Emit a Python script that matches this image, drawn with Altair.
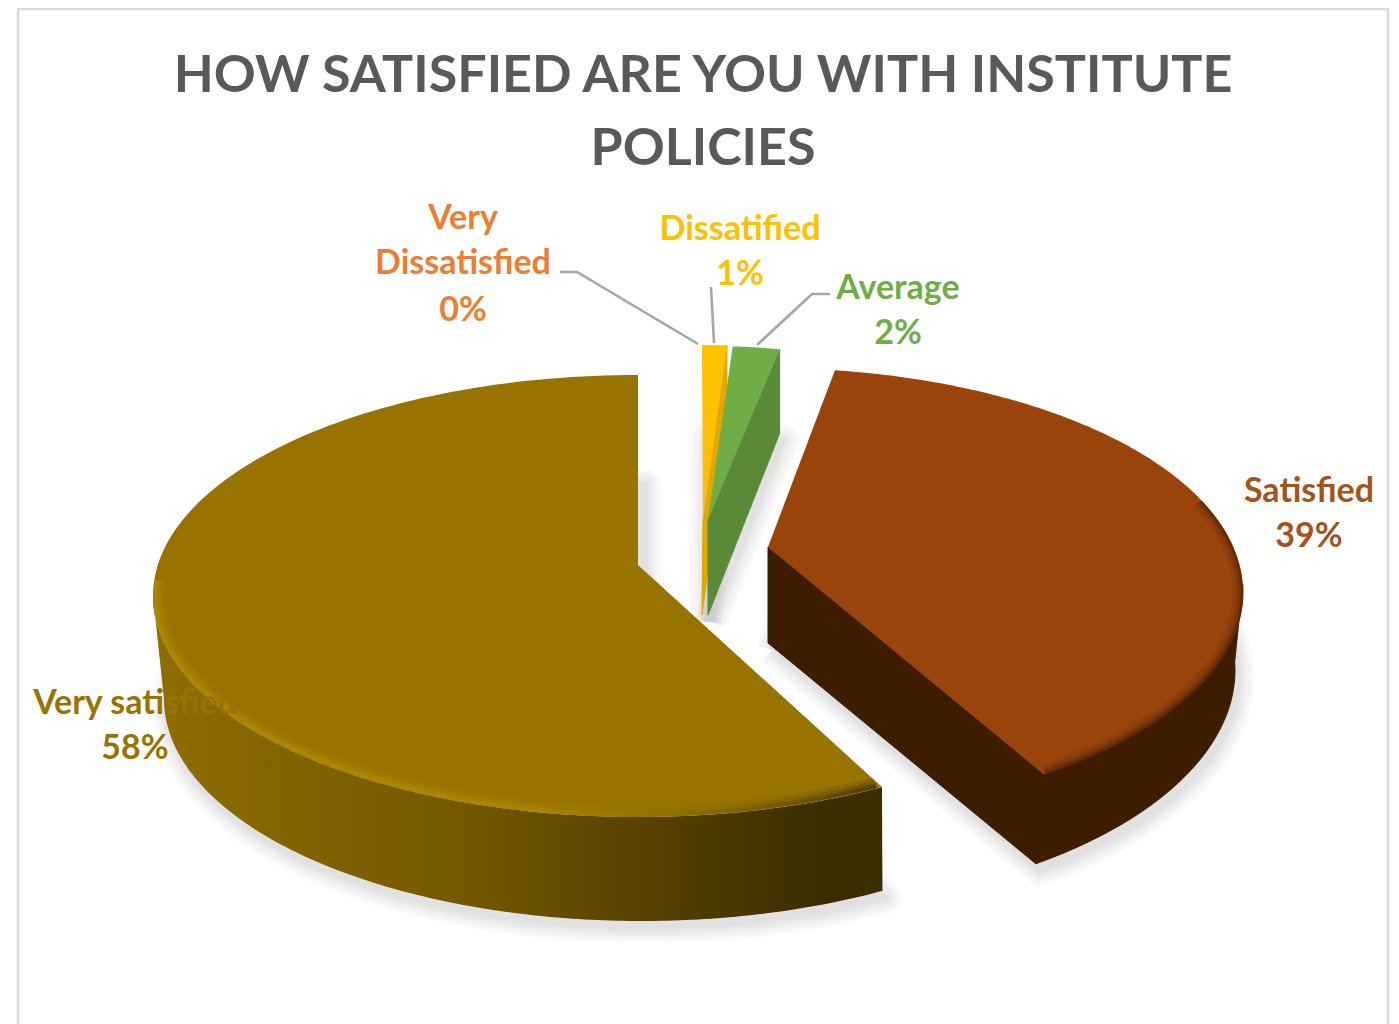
import numpy as np
import pandas as pd
import altair as alt

# ---- chart values ----
categories = ["Very Dissatisfied", "Dissatisfied", "Average", "Satisfied", "Very satisfied"]
shares = [0, 1, 2, 39, 58]
title_lines = ["HOW SATISFIED ARE YOU WITH INSTITUTE", "POLICIES"]
label_lines = [["Very", "Dissatisfied"], ["Dissatified"], ["Average"], ["Satisfied"], ["Very satisfied"]]

# ---- styling and layout ----
W, H = 1383, 1016
top_colors = ["#ED7D31", "#FFC000", "#70AD47", "#9A440C", "#997300"]
text_colors = ["#ED7D31", "#FFC000", "#70AD47", "#A5521B", "#997300"]
wall_colors = ["#B85F20", "#E0A800", "#5A8A38", "#3E1C00", None]
LABEL_FONT = "Lato"
# per-slice projection: top ellipse, bottom ellipse (cx, cy, a, b), apexes, angular trim
geom = {
    "Dissatisfied": dict(top=(702, 535, 398, 190), bot=(702, 620, 398, 190), apex=(703, 520), bapex=(702, 615), trim=(0, 0)),
    "Average": dict(top=(709, 536, 377, 190), bot=(709, 620, 377, 190), apex=(708, 520), bapex=(708, 615), trim=(0, 0)),
    "Satisfied": dict(top=(768, 592, 475, 224), bot=(760, 670, 475, 238), apex=(768, 547), bapex=(768, 643), trim=(-2.7, -6.7), wall_from=88),
    "Very satisfied": dict(top=(638, 596, 485, 221), bot=(642, 699, 478, 222), apex=(638, 565), bapex=(642, 660), trim=(-1.4, 0), wall_to=270),
}
label_at = {
    "Very Dissatisfied": (463, [219, 264, 311]),
    "Dissatisfied": (740, [230, 275]),
    "Average": (898, [289, 334]),
    "Satisfied": (1309, [492, 537]),
    "Very satisfied": (135, [704, 749]),
}
leaders = [
    [(560, 272), (577, 272), (698, 344)],
    [(711, 287), (714, 343)],
    [(830, 294), (812, 294), (757, 345)],
]
frame = [(18, 1024), (18, 9), (1388, 9), (1388, 1024)]

xs = alt.X("x:Q", scale=alt.Scale(domain=[8, 8 + W], nice=False, zero=False), axis=None)
ys = alt.Y("y:Q", scale=alt.Scale(domain=[8, 8 + H], reverse=True, nice=False, zero=False), axis=None)


def arc(e, t0, t1, n=160, inset=0):
    t = np.radians(np.linspace(t0, t1, n))
    return np.c_[e[0] + (e[2] - inset) * np.sin(t), e[1] - (e[3] - inset) * np.cos(t)]


def path(points, **mark):
    pts = np.asarray(points, dtype=float)
    df = pd.DataFrame({"x": pts[:, 0], "y": pts[:, 1], "i": np.arange(len(pts))})
    return alt.Chart(df).mark_line(**mark).encode(x=xs, y=ys, order="i:Q")


def poly(points, fill, **mark):
    pts = np.vstack([points, points[0]])
    mark.setdefault("strokeWidth", 0)
    return path(pts, fill=fill, **mark)


def grad(stops, vertical=False):
    return alt.LinearGradient(
        gradient="linear",
        x1=0, y1=0, x2=0 if vertical else 1, y2=1 if vertical else 0,
        stops=[alt.GradientStop(offset=o, color=c) for o, c in stops],
    )


edges = np.cumsum([0] + shares) / sum(shares) * 360
shadows, bodies, rims = [], [], []
for k, name in enumerate(categories):
    if shares[k] == 0:
        continue
    g = geom[name]
    t0, t1 = edges[k] + g["trim"][0], edges[k + 1] + g["trim"][1]
    top_arc = arc(g["top"], t0, t1)
    bot_arc = arc(g["bot"], t0, t1)
    # soft floor shadow built from the slice's bottom face
    floor = np.vstack([[g["bapex"]], bot_arc, [g["bapex"]]]) + [4, 7]
    for sw in [30, 23, 16, 10, 4]:
        shadows.append(path(floor, fill="#000000", stroke="#000000", strokeWidth=sw,
                            opacity=0.02, strokeJoin="round"))
    # walls
    if name == "Very satisfied":
        tw = g["wall_to"]
        wall = np.vstack([arc(g["top"], t0, tw), arc(g["bot"], t0, tw)[::-1]])
        bodies.append(poly(wall, grad([(0, "#8F6D00"), (0.45, "#735600"), (0.75, "#4E3B00"), (0.92, "#3A2E00"), (1, "#3A2E00")])))
    else:
        end_top, end_bot = top_arc[-1], bot_arc[-1]
        cut = np.array([g["apex"], end_top, end_bot, g["bapex"]])
        if name == "Satisfied":
            tw = g["wall_from"]
            outer = np.vstack([arc(g["top"], tw, t1), arc(g["bot"], tw, t1)[::-1]])
            bodies.append(poly(outer, wall_colors[k], stroke=wall_colors[k], strokeWidth=1))
        bodies.append(poly(cut, wall_colors[k], stroke=wall_colors[k], strokeWidth=1))
    # top face
    bodies.append(poly(np.vstack([[g["apex"]], top_arc]), top_colors[k]))
    # bevel along the front rim
    if name == "Very satisfied":
        stops = [(0, "#B08A00"), (0.5, "#B08A00"), (0.72, "#8F7000"), (0.9, "#5F4A00"), (1, "#3A2E00")]
        for inset, sw, op in [(7, 9, 0.18), (5, 6, 0.3), (3, 4, 0.45), (1.5, 2.5, 0.6)]:
            rims.append(path(arc(g["top"], t0 + 0.6, 274, inset=inset), stroke=grad(stops), strokeWidth=sw, opacity=op))
    if name == "Satisfied":
        for inset, sw, op in [(6, 10, 0.08), (4, 7, 0.14), (2.5, 4, 0.25), (1, 2, 0.45)]:
            rims.append(path(arc(g["top"], 66, t1 - 0.3, inset=inset), stroke=wall_colors[k], strokeWidth=sw, opacity=op))

frame_layer = path(frame, stroke="#D9D9D9", strokeWidth=2.5)
leader_layers = [path(p, stroke="#A6A6A6", strokeWidth=2.6) for p in leaders]

title_df = pd.DataFrame({"t": title_lines, "x": [703, 703], "y": [76, 149]})
title_layer = alt.Chart(title_df).mark_text(
    font=LABEL_FONT, fontWeight="bold", fontSize=52, color="#595959", align="center", baseline="middle"
).encode(x=xs, y=ys, text="t:N")

rows = []
for k, name in enumerate(categories):
    lines = label_lines[k] + [f"{shares[k]}%"]
    x0, yy = label_at[name]
    for line, y0 in zip(lines, yy):
        rows.append({"t": line, "x": x0, "y": y0, "c": text_colors[k]})
label_layer = alt.Chart(pd.DataFrame(rows)).mark_text(
    font=LABEL_FONT, fontWeight="bold", fontSize=34, align="center", baseline="middle"
).encode(x=xs, y=ys, text="t:N", color=alt.Color("c:N", scale=None))

chart = alt.layer(
    frame_layer, *shadows, *bodies, *rims, *leader_layers, title_layer, label_layer
).properties(
    width=W, height=H, padding=0, autosize=alt.AutoSizeParams(type="none"), background="white"
).configure_view(stroke=None)

chart.save("out.html", embed_options={"renderer": "svg", "actions": False})
